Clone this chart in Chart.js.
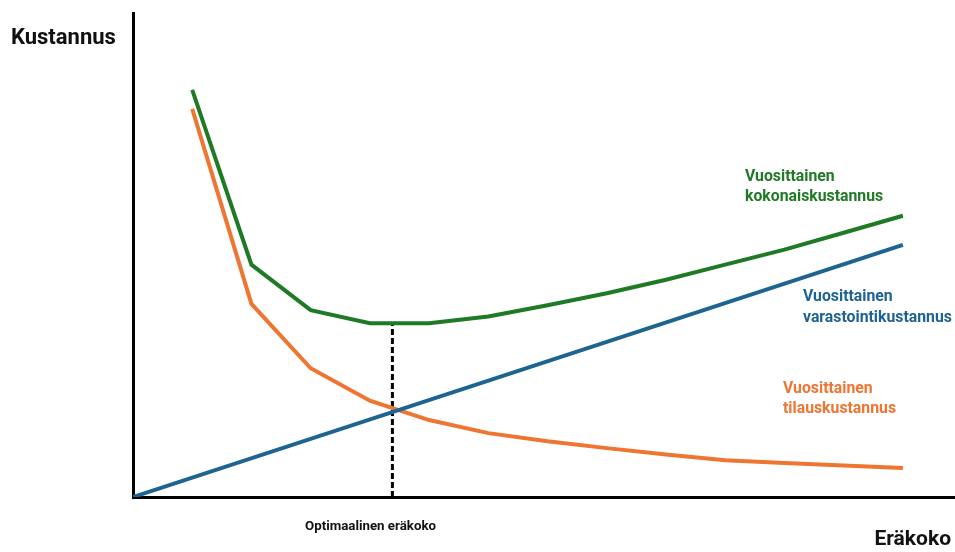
<!DOCTYPE html>
<html>
<head>
  <meta charset="UTF-8" />
  <title>Eräkoko</title>
  <script src="https://cdn.jsdelivr.net/npm/chart.js@4.4.0/dist/chart.umd.min.js"></script>
  <style>
    html,body{margin:0;padding:0;background:#fff;}
    #wrap{width:955px;height:552px;position:relative;}
  </style>
</head>
<body>
  <div id="wrap"><canvas id="costChart"></canvas></div>
  <script>
    // values (x = lot size units, y = cost units)
    const lotSizes=[1,2,3,4,5,6,7,8,9,10,11,12,13];
    const totalCost=[84.1,48.0,38.6,35.9,35.9,37.3,39.6,42.1,44.9,48.0,51.1,54.6,58.1];
    const orderCost=[80.2,39.9,26.6,19.9,15.9,13.2,11.5,10.1,8.8,7.6,7.0,6.5,6.0];
    const holdingX=[0,13];
    const holdingCost=[0,52.1];
    const optimumX=4.38;
    const optimumY=[0,35.9];

    const GREEN='#1f7a26', ORANGE='#ee7532', BLUE='#1d6490';

    const pts=(xs,ys)=>xs.map((x,i)=>({x,y:ys[i]}));

    const labelsPlugin={
      id:'labels',
      afterDraw(chart){
        const c=chart.ctx;
        c.save();
        c.textBaseline='middle';
        c.fillStyle='#111';
        c.font='bold 22px Roboto';
        c.textAlign='left';
        c.fillText('Kustannus',11,38);
        c.textAlign='right';
        c.font='bold 21px Roboto';
        c.fillText('Eräkoko',951,540);
        c.textAlign='left';
        c.font='bold 13.3px Roboto';
        c.fillText('Optimaalinen eräkoko',305,527);
        c.font='bold 15.8px Roboto';
        c.fillStyle=GREEN;
        c.fillText('Vuosittainen',745,177);
        c.fillText('kokonaiskustannus',745,197);
        c.fillStyle=BLUE;
        c.fillText('Vuosittainen',803,297);
        c.fillText('varastointikustannus',803,318);
        c.fillStyle=ORANGE;
        c.fillText('Vuosittainen',783,389);
        c.fillText('tilauskustannus',783,409);
        c.restore();
      }
    };

    new Chart(document.getElementById('costChart'),{
      type:'line',
      data:{datasets:[
        {label:'Vuosittainen varastointikustannus',data:pts(holdingX,holdingCost),borderColor:BLUE,borderWidth:4,pointRadius:0,tension:0},
        {label:'Vuosittainen tilauskustannus',data:pts(lotSizes,orderCost),borderColor:ORANGE,borderWidth:4,pointRadius:0,tension:0},
        {label:'Vuosittainen kokonaiskustannus',data:pts(lotSizes,totalCost),borderColor:GREEN,borderWidth:4,pointRadius:0,tension:0},
        {label:'Optimaalinen eräkoko',data:pts([optimumX,optimumX],optimumY),borderColor:'#000',borderWidth:3,borderDash:[6,3],pointRadius:0}
      ]},
      options:{
        responsive:true,maintainAspectRatio:false,animation:false,
        layout:{padding:{left:125,right:0,top:13,bottom:47}},
        plugins:{legend:{display:false},tooltip:{enabled:false}},
        scales:{
          x:{type:'linear',min:0,max:13.88,
             grid:{display:false},ticks:{display:false},
             border:{display:true,color:'#000',width:3}},
          y:{min:0,max:100,
             grid:{display:false},ticks:{display:false},
             border:{display:true,color:'#000',width:3}}
        }
      },
      plugins:[labelsPlugin]
    });
  </script>
</body>
</html>
